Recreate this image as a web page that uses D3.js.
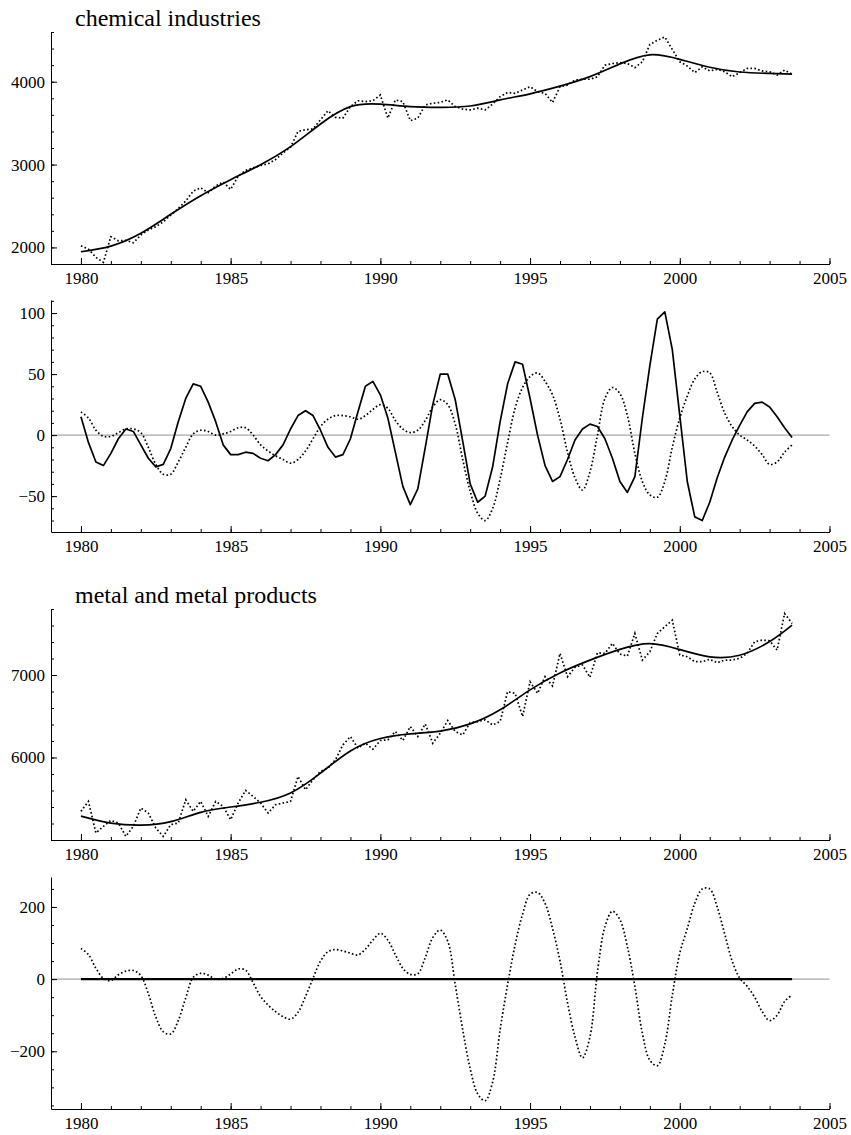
<!DOCTYPE html>
<html><head><meta charset="utf-8">
<script src="https://cdn.jsdelivr.net/npm/d3@7"></script>
<style>
body{margin:0;background:#fff;}
svg{display:block;}
</style></head><body>
<svg id="c" width="851" height="1135"></svg>
<script>
// ---------- data ----------
const quarters = d3.range(96).map(i => 1980 + i / 4);
const trendYears = [1980,1981,1982,1983,1984,1985,1986,1987,1988,1989,1990,1991,1992,1993,1994,1995,1996,1997,1998,1999,2000,2001,2002,2003,2003.75];
const xTickYears = [1980,1981,1982,1983,1984,1985,1986,1987,1988,1989,1990,1991,1992,1993,1994,1995,1996,1997,1998,1999,2000,2001,2002,2003,2004,2005];
const xLabelYears = [1980,1985,1990,1995,2000,2005];

const chemTitle = "chemical industries";
const chemRaw = [
 2020,1980,1880,1820, 2130,2080,2085,2056, 2150,2210,2250,2310, 2390,2470,2560,2680,
 2720,2660,2740,2790, 2700,2860,2930,2960, 2990,3010,3060,3140, 3210,3400,3420,3430,
 3540,3650,3570,3560, 3700,3770,3760,3770, 3840,3560,3780,3760, 3530,3560,3720,3740,
 3750,3780,3700,3670, 3660,3680,3660,3730, 3820,3870,3860,3900, 3940,3880,3860,3750,
 3940,3960,4020,4030, 4030,4060,4200,4220, 4230,4220,4170,4240, 4450,4500,4540,4390,
 4240,4190,4110,4180, 4130,4150,4120,4060, 4110,4160,4160,4130, 4120,4080,4140,4090];
const chemTrend = [1948,2016,2170,2400,2625,2818,2999,3216,3490,3700,3730,3700,3690,3707,3780,3854,3946,4061,4215,4325,4270,4175,4117,4100,4092];
const chemCycleSolid = [
 15,-6,-22,-25, -15,-3,5,3, -8,-19,-26,-24, -11,11,30,42,
 40,27,11,-8, -16,-16,-14,-15, -19,-21,-16,-8, 5,16,20,16,
 4,-10,-18,-16, -3,19,40,44, 33,14,-14,-42, -57,-44,-10,25,
 50,50,29,-5, -40,-55,-50,-26, 11,42,60,58, 30,0,-25,-38,
 -34,-20,-4,5, 9,7,-3,-19, -38,-47,-34,14, 57,95,101,70,
 16,-38,-67,-70, -55,-35,-18,-4, 8,19,26,27, 23,15,6,-2];
const chemCycleDotted = [
 19,14,4,-1, -1,2,5,5, 2,-10,-24,-32, -32,-22,-10,1,
 4,3,0,1, 3,6,6,0, -8,-13,-17,-20, -23,-20,-13,-3,
 7,13,16,16, 15,13,16,21, 25,22,12,5, 2,4,12,23,
 29,25,9,-20, -46,-64,-70,-60, -36,-6,22,39, 48,51,44,33,
 13,-14,-35,-45, -30,0,30,39, 34,16,-15,-38, -49,-51,-38,-10,
 14,32,46,52, 51,35,18,7, 0,-4,-9,-16, -24,-22,-14,-8];

const metalTitle = "metal and metal products";
const metalRaw = [
 5347,5468,5085,5165, 5238,5206,5044,5165, 5387,5327,5145,5044, 5186,5206,5488,5347,
 5468,5286,5468,5407, 5246,5448,5601,5528, 5448,5327,5427,5448, 5468,5770,5609,5730,
 5831,5871,5972,6153, 6254,6113,6173,6101, 6206,6214,6315,6206, 6375,6254,6407,6173,
 6294,6448,6315,6274, 6423,6435,6456,6395, 6435,6798,6778,6496, 6919,6778,6980,6867,
 7262,6980,7093,7121, 6972,7270,7262,7383, 7254,7230,7504,7181, 7282,7504,7585,7665,
 7242,7222,7161,7161, 7190,7149,7181,7181, 7202,7262,7403,7423, 7415,7302,7746,7625];
const metalTrend = [5290,5205,5180,5222,5335,5400,5458,5570,5810,6080,6230,6286,6320,6407,6578,6820,7025,7180,7310,7380,7308,7220,7240,7405,7605];
const metalCycleSolid = [
 0,0,0,0, 0,0,0,0, 0,0,0,0, 0,0,0,0, 0,0,0,0, 0,0,0,0, 0,0,0,0, 0,0,0,0,
 0,0,0,0, 0,0,0,0, 0,0,0,0, 0,0,0,0, 0,0,0,0, 0,0,0,0, 0,0,0,0, 0,0,0,0,
 0,0,0,0, 0,0,0,0, 0,0,0,0, 0,0,0,0, 0,0,0,0, 0,0,0,0, 0,0,0,0, 0,0,0,0];
const metalCycleDotted = [
 85,68,30,2, -4,12,22,24, 10,-40,-105,-146, -152,-115,-52,5,
 16,11,0,2, 14,28,25,-10, -48,-72,-90,-104, -111,-92,-48,2,
 50,76,82,78, 72,67,83,108, 127,108,68,30, 13,15,60,115,
 136,105,-15,-140, -248,-318,-337,-285, -140,-15,95,180, 235,240,210,140,
 50,-65,-160,-218, -160,20,145,188, 165,90,-20,-150, -225,-240,-180,-45,
 72,140,210,250, 250,200,125,50, 3,-20,-50,-90, -115,-100,-62,-44];

const chemLevelTicks = [2000,3000,4000];
const chemCycleTicks = [-50,0,50,100];
const metalLevelTicks = [6000,7000];
const metalCycleTicks = [-200,0,200];

// ---------- drawing ----------
const FONT = "'Liberation Serif','Times New Roman',Times,serif";
const svg = d3.select("#c");
const x = d3.scaleLinear().domain([1979, 2005]).range([51, 829.5]);

const panels = [
  {top:32, bottom:264, domain:[1800,4600], major:chemLevelTicks, step:200, title:chemTitle, titleY:26,
   series:[{xs:trendYears, ys:chemTrend, kind:"solid", curve:d3.curveNatural},
           {xs:quarters, ys:chemRaw, kind:"dot", curve:d3.curveLinear}]},
  {top:300, bottom:532, domain:[-79.4,110.7], major:chemCycleTicks, step:10, zero:true,
   series:[{xs:quarters, ys:chemCycleDotted, kind:"dot", curve:d3.curveCatmullRom.alpha(0.5)},
           {xs:quarters, ys:chemCycleSolid, kind:"solid", curve:d3.curveLinear}]},
  {top:609, bottom:840, domain:[5000,7800], major:metalLevelTicks, step:200, title:metalTitle, titleY:603,
   series:[{xs:trendYears, ys:metalTrend, kind:"solid", curve:d3.curveNatural},
           {xs:quarters, ys:metalRaw, kind:"dot", curve:d3.curveLinear}]},
  {top:877, bottom:1109, domain:[-360,283], major:metalCycleTicks, step:50, zero:true,
   series:[{xs:quarters, ys:metalCycleSolid, kind:"solidThick", curve:d3.curveLinear},
           {xs:quarters, ys:metalCycleDotted, kind:"dot", curve:d3.curveCatmullRom.alpha(0.5)}]}
];

panels.forEach(p => {
  const y = d3.scaleLinear().domain(p.domain).range([p.bottom, p.top]);
  const g = svg.append("g");

  if (p.zero) {
    g.append("line").attr("x1", x.range()[0]).attr("x2", x.range()[1])
      .attr("y1", y(0)).attr("y2", y(0))
      .attr("stroke", "#a8a8a8").attr("stroke-width", 1.3);
  }

  p.series.forEach(s => {
    const line = d3.line().x((d, i) => x(s.xs[i])).y(d => y(d)).curve(s.curve);
    const path = g.append("path").datum(s.ys).attr("d", line).attr("fill", "none").attr("stroke", "#000");
    if (s.kind === "dot") {
      path.attr("stroke-width", 1.7).attr("stroke-dasharray", "1.6,2.3");
    } else if (s.kind === "solidThick") {
      path.attr("stroke-width", 2.2);
    } else {
      path.attr("stroke-width", 1.7).attr("stroke-linejoin", "round");
    }
  });

  // x axis minor + major
  const xMinor = d3.axisBottom(x).tickValues(xTickYears).tickSize(-3).tickSizeOuter(0).tickFormat("");
  const xMajor = d3.axisBottom(x).tickValues(xLabelYears).tickSize(-6).tickSizeOuter(0).tickPadding(8).tickFormat(d3.format("d"));
  g.append("g").attr("transform", `translate(0,${p.bottom})`).call(xMinor).call(a => a.select(".domain").remove());
  const xa = g.append("g").attr("transform", `translate(0,${p.bottom})`).call(xMajor);
  xa.attr("font-family", FONT).attr("font-size", 17);

  // y axis minor + major
  const d0 = p.domain[0], d1 = p.domain[1];
  const minorVals = d3.range(Math.ceil(d0 / p.step) * p.step, d1 + 1e-9, p.step);
  const yMinor = d3.axisLeft(y).tickValues(minorVals).tickSize(-3).tickSizeOuter(0).tickFormat("");
  const yMajor = d3.axisLeft(y).tickValues(p.major).tickSize(-6).tickSizeOuter(0).tickPadding(6).tickFormat(d3.format("d"));
  g.append("g").attr("transform", `translate(${x.range()[0]},0)`).call(yMinor).call(a => a.select(".domain").remove());
  const ya = g.append("g").attr("transform", `translate(${x.range()[0]},0)`).call(yMajor);
  ya.attr("font-family", FONT).attr("font-size", 17);

  if (p.title) {
    svg.append("text").attr("x", 75).attr("y", p.titleY)
      .attr("font-family", FONT).attr("font-size", 24).attr("fill", "#000")
      .text(p.title);
  }
});
</script>
</body></html>
